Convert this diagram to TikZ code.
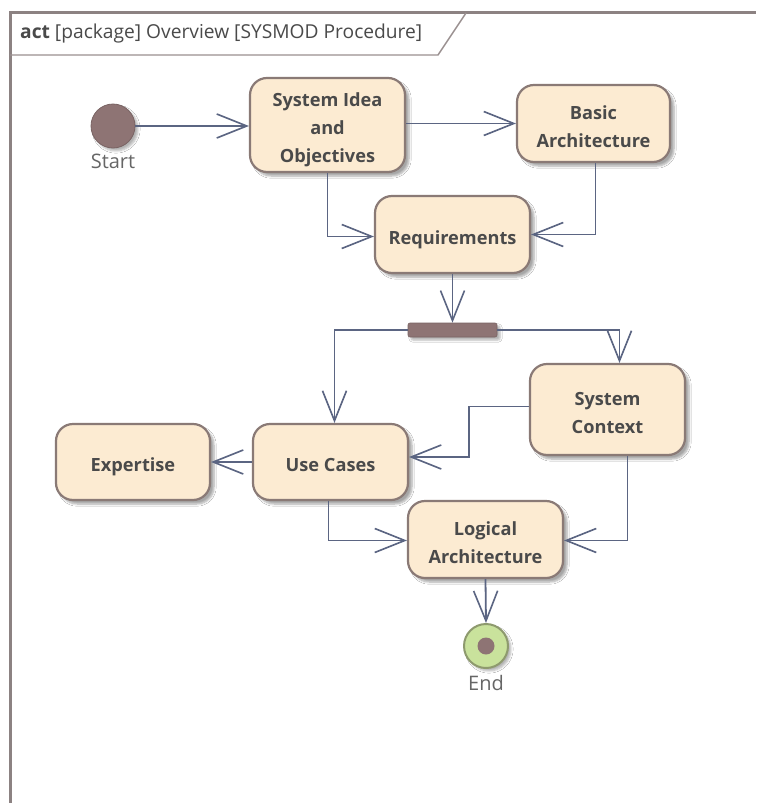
\documentclass[tikz,border=0pt]{standalone}
\usepackage{fontspec}
\setmainfont{Open Sans}
\usetikzlibrary{arrows.meta,shadows.blur,calc}

\definecolor{framegray}{HTML}{8C8282}
\definecolor{headgray}{HTML}{9A9090}
\definecolor{actfill}{HTML}{FCEBD2}
\definecolor{actdraw}{HTML}{8A7A76}
\definecolor{flowcol}{HTML}{5B6582}
\definecolor{dotfill}{HTML}{8E7474}
\definecolor{endfill}{HTML}{C9E29C}
\definecolor{enddraw}{HTML}{8E9A6E}
\definecolor{txtcol}{HTML}{4A4A4A}
\definecolor{lblcol}{HTML}{666666}

% action caption, set a little below the optical centre of its box
\newcommand{\acttext}[1]{\raisebox{-4pt}[\height][\depth]{\begin{tabular}{@{}c@{}}#1\end{tabular}}}

\tikzset{
  action/.style={rectangle, rounded corners=17pt, draw=actdraw, line width=2.2pt,
    fill=actfill, align=center, font=\fontsize{18.2}{28}\selectfont\bfseries,
    text=txtcol, inner sep=0pt,
    blur shadow={shadow xshift=4pt, shadow yshift=-4pt, shadow blur steps=6, shadow opacity=35}},
  flow/.style={draw=flowcol, line width=1.8pt,
    -{Straight Barb[length=30pt, width=24pt, line width=1.6pt]}},
  initnode/.style={circle, fill=dotfill, draw=dotfill!85!black, line width=0.8pt,
    minimum size=44pt, inner sep=0pt,
    blur shadow={shadow xshift=3pt, shadow yshift=-3pt, shadow blur steps=5, shadow opacity=30}},
  finalnode/.style={circle, fill=endfill, draw=enddraw, line width=2pt,
    minimum size=44pt, inner sep=0pt,
    blur shadow={shadow xshift=3pt, shadow yshift=-3pt, shadow blur steps=5, shadow opacity=30}},
  forkbar/.style={rectangle, rounded corners=2pt, fill=dotfill, draw=dotfill!85!black,
    line width=0.6pt, minimum width=89pt, minimum height=14pt, inner sep=0pt,
    blur shadow={shadow xshift=3pt, shadow yshift=-3pt, shadow blur steps=5, shadow opacity=30}},
  plainlabel/.style={font=\fontsize{20}{22}\selectfont, text=lblcol, inner sep=0pt}
}

\begin{document}
\begin{tikzpicture}[x=1pt, y=-1pt]
  \useasboundingbox (0,0) rectangle (756,803);
  \fill[white] (0,0) rectangle (756,803);

  % diagram frame and its name tag
  \draw[framegray, line width=3pt] (10,803) -- (10,12) -- (756,12);
  \draw[headgray, line width=1.4pt] (10,55) -- (438,55) -- (466,13);
  \node[anchor=west, font=\fontsize{19.2}{22}\selectfont, text=txtcol, inner sep=0pt]
    (title) at (20,34) {\textbf{act} [package] Overview [SYSMOD Procedure]};

  % control nodes
  \node[initnode] (start) at (113,126) {};
  \node[plainlabel] (startlbl) at (113,161) {Start};
  \node[forkbar] (fork) at (452.5,330) {};
  \node[finalnode] (end) at (486,646) {};
  \node[circle, fill=dotfill, minimum size=17pt, inner sep=0pt] (enddot) at (end.center) {};
  \node[plainlabel] (endlbl) at (486,683) {End};

  % actions
  \node[action, minimum width=155pt, minimum height=94pt] (sysidea) at (327.5,125)
    {\acttext{System Idea\\and\\Objectives}};
  \node[action, minimum width=153pt, minimum height=77pt] (basic) at (593.5,123.5)
    {\acttext{Basic\\Architecture}};
  \node[action, minimum width=155pt, minimum height=77pt] (req) at (452.5,234.5)
    {\acttext{Requirements}};
  \node[action, minimum width=155pt, minimum height=91pt] (sysctx) at (607.5,409.5)
    {\acttext{System\\Context}};
  \node[action, minimum width=155pt, minimum height=76pt] (usecases) at (330.5,462)
    {\acttext{Use Cases}};
  \node[action, minimum width=154pt, minimum height=76pt] (expertise) at (133,462)
    {\acttext{Expertise}};
  \node[action, minimum width=155pt, minimum height=77pt] (logical) at (485.5,539.5)
    {\acttext{Logical\\Architecture}};

  % control flows
  \draw[flow] (start.east) -- (sysidea.west |- start.east);
  \draw[flow] (sysidea.east |- basic.west) -- (basic.west);
  \draw[flow] (sysidea.south) |- ([yshift=-2pt]req.west);
  \draw[flow] ([xshift=2pt]basic.south) |- (req.east);
  \draw[flow] (req.south) -- (fork.north);
  \draw[flow] (fork.west) -| ([xshift=4pt]usecases.north);
  \draw[flow] (fork.east) -| ([xshift=12pt]sysctx.north);
  \draw[flow] ([yshift=3pt]sysctx.west) -- ++(-60,0) |- ([yshift=5pt]usecases.east);
  \draw[flow] (usecases.west) -- (expertise.east);
  \draw[flow] ([xshift=-2pt]usecases.south) |- ([yshift=-1pt]logical.west);
  \draw[flow] ([xshift=20pt]sysctx.south) |- ([yshift=-1pt]logical.east);
  \draw[flow] (logical.south) -- (end.north);
\end{tikzpicture}
\end{document}
